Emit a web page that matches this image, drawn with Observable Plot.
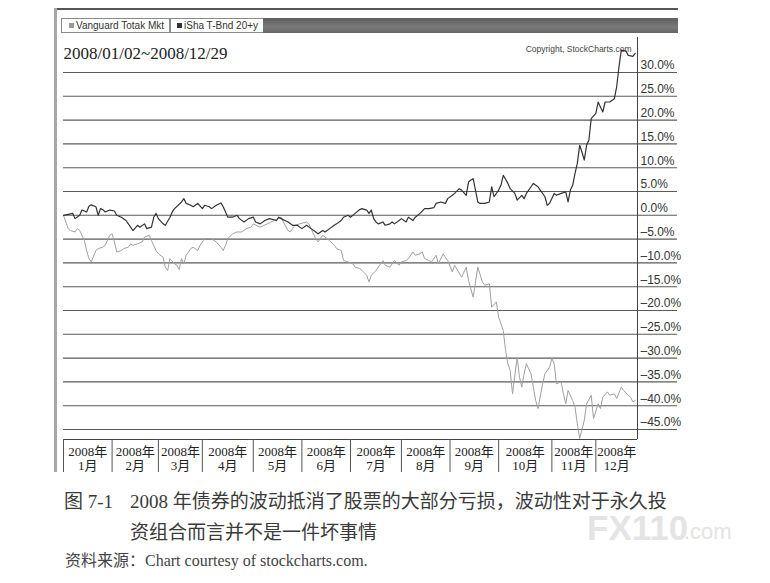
<!DOCTYPE html>
<html><head><meta charset="utf-8">
<script src="https://cdn.jsdelivr.net/npm/d3@7"></script>
<script src="https://cdn.jsdelivr.net/npm/@observablehq/plot@0.6"></script>
<style>
body{margin:0;background:#fff;}
#wrap{position:relative;width:770px;height:583px;overflow:hidden;background:#fff;}
#chart{position:absolute;left:0;top:0;}
.abs{position:absolute;white-space:nowrap;}
.tab{position:absolute;top:18px;height:13px;border:1px solid #8a8a8a;background:#fff;box-sizing:content-box;}
.tab span{position:absolute;top:1px;font:10px/11px "Liberation Sans",Arial,sans-serif;color:#333;}
.sq{position:absolute;top:4px;width:5px;height:5px;}
.cap{font-family:"Liberation Serif","Noto Sans CJK SC",serif;color:#3a3a3a;}
</style></head><body><div id="wrap">
<div class="abs" style="left:54px;top:8px;width:3px;height:464px;background:#a8a8a8;"></div>
<div class="abs" style="left:57px;top:8px;width:621px;height:2px;background:#555;"></div>
<div class="tab" style="left:61px;width:107px;"><div class="sq" style="left:7px;background:#999;"></div><span style="left:14px;">Vanguard Totak Mkt</span></div>
<div class="tab" style="left:170px;width:92px;"><div class="sq" style="left:6px;background:#333;"></div><span style="left:13px;">iSha T-Bnd 20+y</span></div>
<div class="abs" style="left:263px;top:18px;width:415px;height:15px;background:linear-gradient(#5e5e5e,#7a7a7a 60%,#666);"></div>
<div id="chart"></div>
<div class="abs cap" style="left:64px;top:492px;font-size:19px;line-height:19px;">图 7-1</div>
<div class="abs cap" style="left:130px;top:492px;font-size:19px;line-height:19px;">2008 年债券的波动抵消了股票的大部分亏损，波动性对于永久投</div>
<div class="abs cap" style="left:130px;top:523px;font-size:19px;line-height:19px;">资组合而言并不是一件坏事情</div>
<div class="abs cap" style="left:65px;top:553px;font-size:16px;line-height:16px;color:#444;">资料来源：Chart courtesy of stockcharts.com.</div>
<div class="abs" style="left:587px;top:510px;font:bold 35px/35px 'Liberation Sans',Arial,sans-serif;color:#e4e4e4;">FX110</div>
<div class="abs" style="left:684px;top:521px;font:22px/22px 'Liberation Sans',Arial,sans-serif;color:#e4e4e4;">.com</div>
</div>
<script>
const monthStarts = [0, 21, 41, 60, 82, 103, 124, 146, 167, 188, 211, 230];
const monthEnd = 248;
const monthNames = ["1月","2月","3月","4月","5月","6月","7月","8月","9月","10月","11月","12月"];
const yearLabel = "2008年";
const yTicks = [-45,-40,-35,-30,-25,-20,-15,-10,-5,0,5,10,15,20,25,30];
const titleText = "2008/01/02~2008/12/29";
const copyrightText = "Copyright, StockCharts.com";

// iShares 20+ Year Treasury Bond (dark line): trading-day index, % change
const bondDay = [0,4,5,7,8,10,11,12,14,15,16,17,18,20,22,23,25,27,29,30,32,33,35,36,38,39,40,41,43,44,46,47,48,51,52,53,55,56,58,60,61,63,64,66,68,69,71,73,75,76,78,80,82,83,85,87,89,92,93,94,97,99,101,103,105,107,109,110,112,113,115,117,118,120,121,123,124,126,128,129,131,132,133,134,135,136,138,139,141,142,143,145,146,148,149,151,152,154,156,158,160,161,163,165,166,168,169,171,172,174,175,176,177,179,180,182,184,185,186,188,189,190,192,193,195,196,198,199,200,202,203,205,206,208,209,210,212,213,215,217,218,219,220,221,222,223,224,225,226,227,228,230,231,233,234,236,238,239,240,241,243,244,246,247];
const bondPct = [0,0.4,-0.7,0,1.1,0.7,1.9,2.2,1.8,0,1.4,1.2,0.7,1.1,0.9,0,-0.4,-1.1,-2.5,-3.2,-2.1,-2.5,-1.8,-2.8,-2.5,-0.4,0.4,-0.7,-1.8,-2.1,-0.4,0.7,1.4,2.8,3.5,2.5,2.1,1.8,2.5,1.4,2.1,1.8,1.4,2.1,2.6,1.8,-0.4,-0.4,0,-0.7,-1.4,-0.7,-0.4,-1.4,-1.8,-1.1,-0.7,-1.1,-0.4,-0.7,-1.4,-2.1,-2.1,-2.8,-2.1,-2.8,-3.5,-3.9,-3.2,-3.5,-2.8,-2.1,-1.8,-1.1,-0.4,0,-0.4,0.4,1.2,1.4,1.1,0.4,1.1,-0.7,-1.4,-1.8,-1.4,-2.1,-1.8,-1.4,-1.8,-1.1,-0.7,-1.4,-0.4,-1.1,-0.4,0.4,1.4,1.4,1.6,2.5,2.8,2.5,3.5,4.2,4.6,5.6,5.3,4.2,7.0,7.4,7.7,2.8,2.5,2.5,2.8,6.0,3.9,5.3,6.3,8.4,6.7,5.6,4.6,3.2,4.2,3.5,4.6,6.0,6.7,6.0,5.3,3.9,2.1,2.5,4.6,4.2,4.6,4.9,2.8,5.3,6.3,8.8,10.9,14.7,13.3,11.6,14.7,15.8,20.3,21.4,23.8,21.7,23.8,23.8,24.5,27.0,31.2,34.7,34.5,33.6,33.4,34.0];

// Vanguard Total Stock Market (light line): trading-day index, % change
const stockDay = [0,2,3,5,6,7,9,10,11,12,14,15,17,18,20,21,22,23,25,26,28,29,30,32,34,35,37,38,40,41,43,44,45,46,48,49,50,51,52,53,55,56,58,59,61,62,64,66,68,69,70,71,73,75,77,79,81,82,85,88,91,94,95,97,98,100,102,105,106,108,109,110,112,113,115,117,118,120,121,123,125,126,128,129,131,132,133,135,136,138,139,141,142,143,145,146,148,149,151,152,154,155,156,158,159,161,162,164,166,168,169,172,174,175,177,179,181,182,184,185,187,188,190,191,192,193,194,196,197,198,199,200,202,203,204,205,207,208,210,211,212,213,215,216,217,218,220,221,222,223,225,226,228,229,231,232,233,235,236,238,239,241,242,244,245,246,247];
const stockPct = [0,-2.8,-3.2,-3.5,-2.8,-3.2,-5.3,-7.4,-9.1,-9.8,-7.4,-7.0,-6.7,-6.3,-4.2,-3.9,-5.6,-7.7,-7.4,-7.0,-6.7,-6.0,-6.3,-6.0,-5.6,-4.6,-4.2,-5.3,-7.4,-8.1,-8.8,-10.9,-11.6,-9.1,-10.2,-10.5,-11.4,-9.1,-10.2,-8.4,-7.0,-6.7,-7.4,-6.3,-4.9,-4.9,-4.9,-5.6,-6.7,-7.4,-6.3,-4.9,-3.9,-3.5,-3.5,-2.8,-2.5,-1.8,-2.5,-1.8,-1.1,-0.4,-1.4,-3.2,-3.5,-2.1,-1.8,-1.4,-1.8,-3.9,-4.9,-5.6,-4.2,-4.6,-5.3,-6.3,-7.0,-7.4,-9.5,-9.8,-10.2,-10.9,-11.2,-11.6,-12.6,-14.0,-12.6,-11.6,-10.9,-9.5,-10.5,-10.9,-10.2,-9.5,-10.5,-9.8,-9.5,-9.1,-7.7,-8.4,-8.1,-7.7,-9.1,-9.5,-9.8,-8.4,-10.2,-8.1,-9.5,-11.9,-10.5,-13.0,-10.9,-13.7,-17.2,-10.9,-14.0,-14.7,-14.4,-19.3,-18.2,-21.4,-24.2,-28.4,-31.2,-32.6,-37.5,-29.8,-34.0,-36.1,-33.3,-31.2,-33.3,-36.1,-38.9,-40.6,-35.4,-33.3,-31.9,-30.1,-31.2,-35.4,-35.0,-37.5,-39.6,-36.8,-38.9,-40.3,-43.8,-46.9,-43.1,-39.6,-37.8,-42.7,-39.6,-40.6,-38.2,-37.1,-37.8,-37.5,-38.5,-36.1,-36.8,-37.8,-38.2,-39.2,-38.9];

const bond = bondDay.map((d, i) => ({day: d, pct: bondPct[i]}));
const stock = stockDay.map((d, i) => ({day: d, pct: stockPct[i]}));
const bounds = monthStarts.concat([monthEnd]);
const months = monthNames.map((m, i) => ({mid: (bounds[i] + bounds[i + 1]) / 2, label: yearLabel + "\n" + m}));
const yMin = -47.1, yMax = 37.35;
const fmt = d => (d < 0 ? "–" : "") + Math.abs(d).toFixed(1) + "%";

const chart = Plot.plot({
  width: 770, height: 475,
  marginLeft: 63, marginRight: 133, marginTop: 37, marginBottom: 36,
  x: {domain: [0, monthEnd]},
  y: {domain: [yMin, yMax]},
  style: {fontFamily: "'Liberation Sans', Arial, sans-serif", background: "transparent", overflow: "visible"},
  marks: [
    Plot.ruleY(yTicks, {stroke: "#5a5a5a", strokeWidth: 1.1, insetRight: -40}),
    Plot.ruleY([yMin], {stroke: "#444", strokeWidth: 1}),
    Plot.ruleX([monthEnd], {stroke: "#444", strokeWidth: 1}),
    Plot.axisY({anchor: "right", ticks: yTicks, tickSize: 0, tickPadding: 3, dy: -7, fontSize: 12, fill: "#333", tickFormat: fmt, label: null}),
    Plot.axisX({ticks: monthStarts, tickSize: 33, tickFormat: () => "", label: null, stroke: "#555"}),
    Plot.text(months, {x: "mid", text: "label", frameAnchor: "bottom", lineAnchor: "top", dy: 6, lineHeight: 1.1, fontSize: 13, fill: "#222", fontFamily: "'Liberation Serif','Noto Sans CJK SC',serif"}),
    Plot.text([titleText], {frameAnchor: "top-left", textAnchor: "start", dy: 9, fontSize: 17, fill: "#222", fontFamily: "'Liberation Serif',serif"}),
    Plot.text([copyrightText], {frameAnchor: "top-right", textAnchor: "end", dx: -6, dy: 8, fontSize: 8.5, fill: "#444"}),
    Plot.line(stock, {x: "day", y: "pct", stroke: "#a0a0a0", strokeWidth: 1}),
    Plot.line(bond, {x: "day", y: "pct", stroke: "#333", strokeWidth: 1.2})
  ]
});
document.getElementById("chart").appendChild(chart);
</script>
</body></html>
